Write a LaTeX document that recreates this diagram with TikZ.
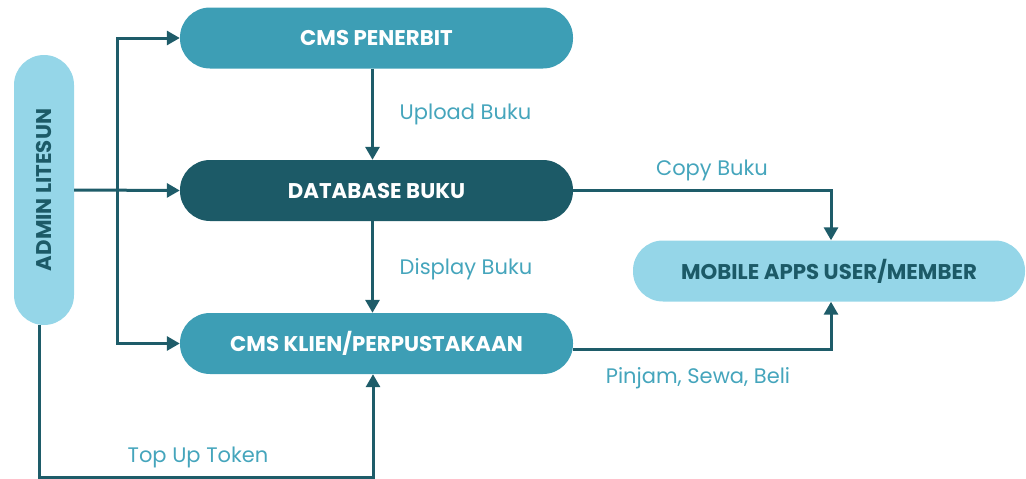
\documentclass[tikz,border=0pt]{standalone}
\usepackage{fontspec}
\setmainfont{Poppins}
\usetikzlibrary{arrows.meta}
\definecolor{cmid}{HTML}{3D9EB5}
\definecolor{cdark}{HTML}{1C5A67}
\definecolor{clight}{HTML}{95D6E8}
\definecolor{cline}{HTML}{1E5C69}
\definecolor{clab}{HTML}{45A5BC}
\tikzset{
  pill/.style={rounded corners=30pt, minimum height=61pt, minimum width=393pt, inner sep=0pt,
    font=\fontsize{21.3}{24}\selectfont\bfseries, text=white},
  arr/.style={draw=cline, line width=3pt, -{Triangle[length=13pt,width=14pt]}},
  lab/.style={font=\fontsize{21}{24}\selectfont, text=clab, inner sep=0pt}
}
\begin{document}
\begin{tikzpicture}[x=1pt,y=-1pt]
\useasboundingbox (0,0) rectangle (1026,479);
\node[pill, fill=cmid] (pen) at (376.5,38) {CMS PENERBIT};
\node[pill, fill=cdark] (dbk) at (376.5,190.5) {DATABASE BUKU};
\node[pill, fill=cmid] (kli) at (376.5,343.5) {CMS KLIEN/PERPUSTAKAAN};
\node[pill, fill=clight, minimum width=392pt, text=cdark] (mob) at (829,271) {MOBILE APPS USER/MEMBER};
\node[rounded corners=30pt, fill=clight, minimum width=60pt, minimum height=270pt, inner sep=0pt,
  font=\fontsize{21.3}{24}\selectfont\bfseries, text=cdark] (adm) at (44,190) {\rotatebox{90}{ADMIN LITESUN}};
\coordinate (vmid) at (117,190);
\draw[arr] (adm.east) -- (dbk.west);
\draw[arr] (vmid) |- (pen.west);
\draw[arr] (vmid) |- (kli.west);
\draw[arr] ([xshift=-4pt]pen.south) -- ([xshift=-4pt]dbk.north);
\draw[arr] ([xshift=-4pt]dbk.south) -- ([xshift=-4pt]kli.north);
\draw[arr] (dbk.east) -| ([xshift=2pt]mob.north);
\draw[arr] ([yshift=-5.5pt]kli.east) -| ([xshift=2pt]mob.south);
\draw[arr] ([xshift=-4.5pt]adm.south) -- ++(0,152) -| ([xshift=-3.5pt]kli.south);
\node[lab] (l1) at (465.5,114) {Upload Buku};
\node[lab] (l2) at (466,269) {Display Buku};
\node[lab] (l3) at (712,170) {Copy Buku};
\node[lab] (l4) at (698,378) {Pinjam, Sewa, Beli};
\node[lab] (l5) at (198,457) {Top Up Token};
\end{tikzpicture}
\end{document}
